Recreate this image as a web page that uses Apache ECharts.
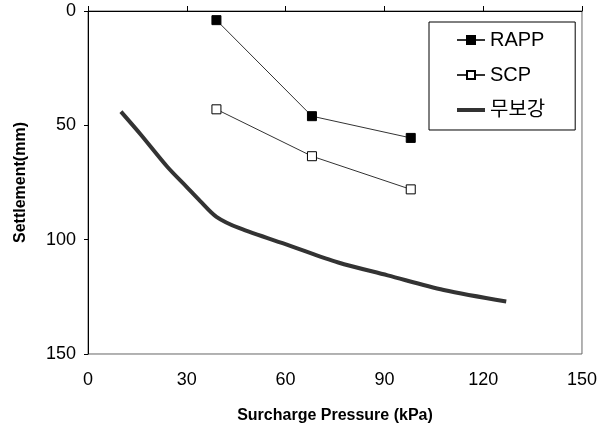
<!DOCTYPE html>
<html>
<head>
<meta charset="utf-8">
<script src="https://cdn.jsdelivr.net/npm/echarts@6/dist/echarts.min.js"></script>
<style>
  html, body { margin: 0; padding: 0; background: #fff; }
  #chart { width: 600px; height: 429px; }
</style>
</head>
<body>
<div id="chart"></div>
<script>
// surcharge pressure (kPa) vs settlement (mm)
const rappX = [39, 68, 98];
const rappY = [4, 46, 55.5];
const scpX = [39, 68, 98];
const scpY = [43, 63.5, 78];
// 무보강 (unreinforced) curve
const plainX = [10, 16, 24, 30, 34, 39, 46, 61, 76, 91, 108, 127];
const plainY = [44, 54, 68, 77, 83, 90, 95, 102.5, 110, 115.6, 122, 127];

const FONT = "'Liberation Sans', Arial, 'Noto Sans CJK KR', sans-serif";

function pairs(xs, ys) {
  return xs.map((x, i) => [x, ys[i]]);
}

const chart = echarts.init(document.getElementById('chart'));
chart.setOption({
  animation: false,
  backgroundColor: '#fff',
  grid: {
    left: 88, right: 16, top: 11, bottom: 75,
    show: true, borderColor: '#666', borderWidth: 1
  },
  legend: {
    orient: 'vertical',
    left: 429, top: 22,
    padding: [8, 30, 10, 26],
    itemGap: 15,
    itemWidth: 28, itemHeight: 10,
    borderColor: '#000', borderWidth: 1,
    backgroundColor: '#fff',
    textStyle: { fontFamily: FONT, fontSize: 20, color: '#000' },
    data: [
      'RAPP',
      'SCP',
      { name: '무보강', itemStyle: { opacity: 0 }, lineStyle: { width: 4, color: '#333' } }
    ]
  },
  xAxis: {
    type: 'value', min: 0, max: 150, interval: 30,
    name: 'Surcharge Pressure (kPa)',
    nameLocation: 'middle', nameGap: 54,
    nameTextStyle: { fontFamily: FONT, fontSize: 16, fontWeight: 'bold', color: '#000' },
    axisLine: { lineStyle: { color: '#000', width: 1 } },
    axisTick: { inside: true, length: 5, lineStyle: { color: '#000' } },
    axisLabel: { fontFamily: FONT, fontSize: 18, color: '#000', margin: 17 },
    splitLine: { show: false }
  },
  yAxis: {
    type: 'value', min: 0, max: 150, interval: 50, inverse: true,
    name: 'Settlement(mm)',
    nameLocation: 'middle', nameGap: 59,
    nameTextStyle: { fontFamily: FONT, fontSize: 16, fontWeight: 'bold', color: '#000' },
    axisLine: { lineStyle: { color: '#000', width: 1 } },
    axisTick: { inside: false, length: 4, lineStyle: { color: '#000' } },
    axisLabel: { fontFamily: FONT, fontSize: 18, color: '#000', margin: 12 },
    splitLine: { show: false }
  },
  series: [
    {
      name: 'RAPP', type: 'line',
      data: pairs(rappX, rappY),
      symbol: 'rect', symbolSize: 9,
      itemStyle: { color: '#000', borderColor: '#000', borderWidth: 1 },
      lineStyle: { color: '#333', width: 1 }
    },
    {
      name: 'SCP', type: 'line',
      data: pairs(scpX, scpY),
      symbol: 'rect', symbolSize: 9,
      itemStyle: { color: '#fff', borderColor: '#000', borderWidth: 1 },
      lineStyle: { color: '#333', width: 1 }
    },
    {
      name: '무보강', type: 'line',
      data: pairs(plainX, plainY),
      symbol: 'none', smooth: 0.3,
      itemStyle: { color: '#333' },
      lineStyle: { color: '#333', width: 4 }
    }
  ]
});
</script>
</body>
</html>
